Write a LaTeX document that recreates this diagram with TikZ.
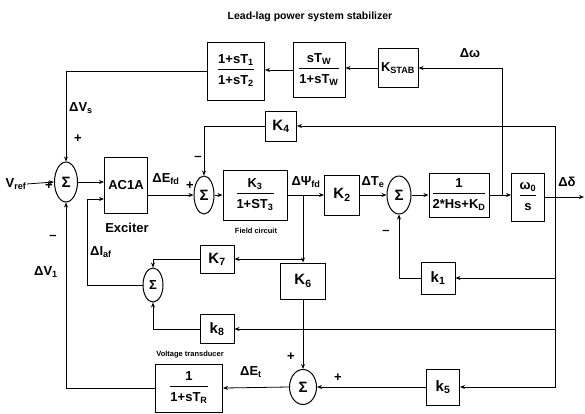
\documentclass[tikz,border=0pt]{standalone}
\usepackage{fontspec}
\setmainfont{Liberation Sans}
\usetikzlibrary{shapes.geometric, arrows.meta, positioning}
\newcommand{\blkfont}{\bfseries\fontsize{13}{14}\selectfont}
\newcommand{\blkfrac}[2]{\begin{tabular}{@{}c@{}}#1\\[2pt]\hline\rule{0pt}{15pt}#2\end{tabular}}

\begin{document}
\begin{tikzpicture}[
    x=1pt, y=-1pt,
    line width=0.8pt,
    blk/.style={rectangle, draw, line width=1pt, inner sep=0pt, align=center, font=\blkfont},
    kbox/.style={blk, font=\bfseries\fontsize{15}{16}\selectfont},
    sumnode/.style={ellipse, draw, line width=1pt, inner sep=0pt, minimum width=22pt, minimum height=38pt, font=\bfseries\fontsize{15}{16}\selectfont},
    lbl/.style={inner sep=0pt, font=\blkfont},
    note/.style={inner sep=0pt, font=\bfseries\fontsize{7.5}{8}\selectfont},
    >={Stealth[length=5pt,width=4pt]}
]
\useasboundingbox (0,0) rectangle (585,413);

\node[lbl, font=\bfseries\fontsize{10.5}{11}\selectfont] (title) at (310,17) {Lead-lag power system stabilizer};

% stabilizer path
\node[blk, minimum width=57pt, minimum height=58pt] (leadlag) at (236,71) {\blkfrac{1+sT\textsubscript{1}}{1+sT\textsubscript{2}}};
\node[blk, minimum width=52pt, minimum height=55pt] (washout) at (319,70) {\blkfrac{sT\textsubscript{W}}{1+sT\textsubscript{W}}};
\node[kbox, font=\blkfont, minimum width=40pt, minimum height=39pt] (kstab) at (398,68) {K\textsubscript{STAB}};

% main loop
\node[sumnode, minimum width=23pt, minimum height=40pt] (sum1) at (66,182) {Σ};
\node[blk, minimum width=43pt, minimum height=56pt] (ac1a) at (126,185) {AC1A};
\node[sumnode, minimum width=20pt] (sum2) at (204,195) {Σ};
\node[blk, minimum width=64pt, minimum height=50pt] (k3) at (255,195) {\blkfrac{K\textsubscript{3}}{1+ST\textsubscript{3}}};
\node[kbox, minimum width=35pt, minimum height=40pt] (k2) at (342,195) {K\textsubscript{2}};
\node[sumnode, minimum width=24pt] (sum3) at (399,195) {Σ};
\node[blk, minimum width=60pt, minimum height=44pt] (swing) at (459,195) {\blkfrac{1}{2*Hs+K\textsubscript{D}}};
\node[blk, minimum width=33pt, minimum height=48pt] (omega) at (528,197) {\blkfrac{ω\textsubscript{0}}{s}};

% feedback blocks
\node[kbox, minimum width=31pt, minimum height=30pt] (k4) at (281,126) {K\textsubscript{4}};
\node[kbox, minimum width=34pt, minimum height=28pt] (k7) at (217,259) {K\textsubscript{7}};
\node[sumnode, minimum width=20pt, minimum height=34pt, font=\blkfont] (sum5) at (153,285) {Σ};
\node[kbox, minimum width=45pt, minimum height=36pt] (k6) at (303,281) {K\textsubscript{6}};
\node[kbox, minimum width=34pt, minimum height=32pt] (k1) at (438,278) {k\textsubscript{1}};
\node[kbox, minimum width=34pt, minimum height=29pt] (k8) at (217,329) {k\textsubscript{8}};
\node[sumnode, minimum width=27pt, minimum height=35pt] (sum4) at (303,387) {Σ};
\node[kbox, minimum width=33pt, minimum height=36pt] (k5) at (443,387) {k\textsubscript{5}};
\node[blk, minimum width=67pt, minimum height=48pt] (tr) at (189,388) {\blkfrac{1}{1+sT\textsubscript{R}}};

\node[lbl] (vref) at (16,184) {V\textsubscript{ref}};
\coordinate (wnode) at (502,195);
\coordinate (dnode) at (555,197);
\coordinate (dout) at (584,197);
\coordinate (psinode) at (303,195);

% connectors
\draw[->] (wnode) |- (kstab.east);
\draw[->] (kstab.west) -- (kstab.west -| washout.east);
\draw[->] (washout.west) -- (washout.west -| leadlag.east);
\draw[->] (leadlag.west) -| (sum1.north);
\draw[->] (vref.east) -- (sum1.west);
\draw[->] (sum1.east) -- (sum1.east -| ac1a.west);
\draw[->] (ac1a.east |- sum2.west) -- (sum2.west);
\draw[->] (sum2.east) -- (k3.west);
\draw[->] (k3.east) -- (k2.west);
\draw[->] (k2.east) -- (sum3.west);
\draw[->] (sum3.east) -- (swing.west);
\draw[->] (swing.east) -- (swing.east -| omega.west);
\draw[->] (omega.east) -- (dout);
\draw[->] (dnode) |- (k4.east);
\draw[->] (k4.west) -| (sum2.north);
\draw[->] (dnode) |- (k1.east);
\draw[->] (k1.west) -| (sum3.south);
\draw[->] (dnode) |- (k8.east);
\draw[->] (dnode) |- (k5.east);
\draw[->] (k5.west) -- (sum4.east);
\draw[->] (psinode) |- (k7.east);
\draw[->] (psinode) -- (k6.north);
\draw[->] (k6.south) -- (sum4.north);
\draw[->] (k7.west) -| (sum5.north);
\draw[->] (k8.west) -| (sum5.south);
\draw[->] (sum5.west) -| ([xshift=-17pt,yshift=-14pt]ac1a.west) -- ([yshift=-14pt]ac1a.west);
\draw[->] (sum4.west) -- (tr.east);
\draw[->] (tr.west) -| (sum1.south);

% signal labels
\node[lbl] (dvs) at (81,108) {ΔV\textsubscript{s}};
\node[lbl] (p1) at (78,139) {+};
\node[lbl] (p2) at (49,186) {+};
\node[lbl] (m1) at (53,237) {–};
\node[lbl] (dv1) at (46,272) {ΔV\textsubscript{1}};
\node[lbl] (defd) at (166,179) {ΔE\textsubscript{fd}};
\node[lbl] (p3) at (190,186) {+};
\node[lbl] (m2) at (198,158) {–};
\node[lbl] (exc) at (127,228) {Exciter};
\node[note] (fc) at (256,231) {Field circuit};
\node[lbl] (dpsi) at (306,182) {ΔΨ\textsubscript{fd}};
\node[lbl] (dte) at (373,182) {ΔT\textsubscript{e}};
\node[lbl] (m3) at (386,232) {–};
\node[lbl] (dd) at (567,182) {Δδ};
\node[lbl] (dw) at (470,53) {Δω};
\node[lbl] (diaf) at (101,252) {ΔI\textsubscript{af}};
\node[note] (vt) at (190,355) {Voltage transducer};
\node[lbl] (det) at (251,372) {ΔE\textsubscript{t}};
\node[lbl] (p4) at (291,357) {+};
\node[lbl] (p5) at (338,378) {+};
\end{tikzpicture}
\end{document}
